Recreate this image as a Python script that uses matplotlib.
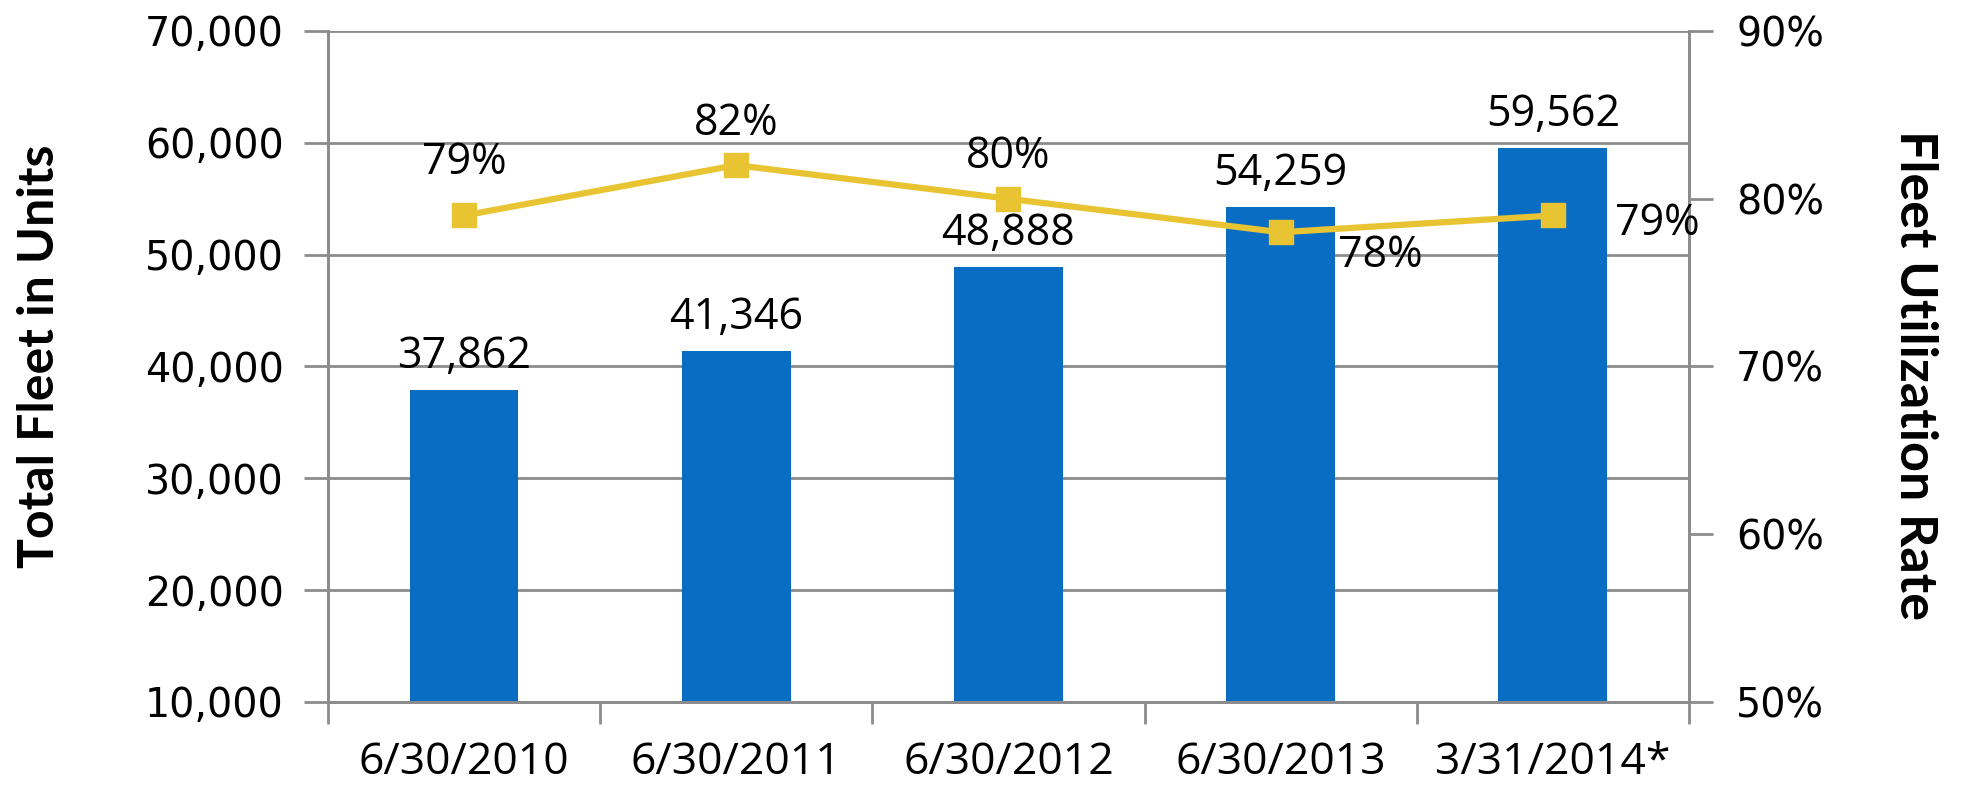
import numpy as np
import matplotlib.pyplot as plt
from matplotlib.ticker import FuncFormatter

dates = ['6/30/2010', '6/30/2011', '6/30/2012', '6/30/2013', '3/31/2014*']
fleet = [37862, 41346, 48888, 54259, 59562]
util = [79, 82, 80, 78, 79]

# label offsets for the utilization labels (points)
util_off = [(0, 38), (0, 30), (0, 30), (72, -17), (75, -6)]

blue = '#0A6DC4'
yellow = '#E8C432'
grey = '#8C8C8C'
txtfont = 'Open Sans'

fig = plt.figure(figsize=(19.65, 7.96), dpi=100)
ax = fig.add_axes([0.1669, 0.1181, 0.6926, 0.8430])
x = np.arange(len(dates))

ax.bar(x, fleet, width=0.4, color=blue, zorder=2, bottom=0)
ax.set_ylim(10000, 70000)
ax.set_xlim(-0.5, len(dates) - 0.5)
ax.set_yticks(np.arange(10000, 70001, 10000))
ax.yaxis.set_major_formatter(FuncFormatter(lambda v, p: f'{int(v):,}'))
ax.grid(axis='y', color=grey, linewidth=2, zorder=0)
for v, xi in zip(fleet, x):
    ax.annotate(f'{v:,}', (xi, v), xytext=(0, 8), textcoords='offset points',
                ha='center', va='bottom', fontsize=31, family=txtfont)

ax.set_xticks(x)
ax.set_xticklabels(dates, fontsize=32, family=txtfont)
ax.set_xticks(np.arange(-0.5, len(dates)), minor=True)
ax.tick_params(axis='x', which='major', length=0, pad=28)
ax.tick_params(axis='x', which='minor', length=16, width=2, color=grey)
ax.tick_params(axis='y', labelsize=28.5, length=17, width=2, color=grey, pad=15)

ax.spines['top'].set_visible(False)
for s in ['left', 'right', 'bottom']:
    ax.spines[s].set_color(grey)
    ax.spines[s].set_linewidth(2)

ax2 = ax.twinx()
ax2.plot(x, util, color=yellow, linewidth=4.5, marker='s', markersize=17, zorder=3)
ax2.set_ylim(50, 90)
ax2.set_yticks([50, 60, 70, 80, 90])
ax2.yaxis.set_major_formatter(FuncFormatter(lambda v, p: f'{int(v)}%'))
ax2.tick_params(axis='y', labelsize=28.5, length=17, width=2, color=grey, pad=17)
ax2.spines['top'].set_visible(False)
for s in ['left', 'right', 'bottom']:
    ax2.spines[s].set_color(grey)
    ax2.spines[s].set_linewidth(2)
for xi, u, off in zip(x, util, util_off):
    ax2.annotate(f'{u}%', (xi, u), xytext=off, textcoords='offset points',
                 ha='center', va='center', fontsize=31, family=txtfont)

ax.set_ylabel('Total Fleet in Units', fontsize=36, fontweight='bold', family='Lato', va='center')
ax.yaxis.set_label_coords(-0.212, 0.515)
ax2.set_ylabel('Fleet Utilization Rate', fontsize=37.5, fontweight='bold', family='Lato',
               rotation=270, va='center')
ax2.yaxis.set_label_coords(1.166, 0.487)

fig.savefig('out.png', dpi=100)
